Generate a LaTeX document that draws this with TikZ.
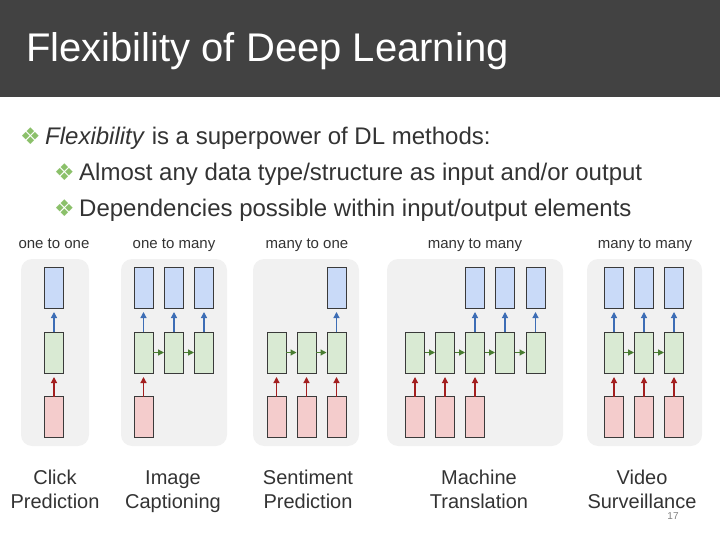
\documentclass[tikz,border=0pt]{standalone}
\usepackage{fontspec}
\setmainfont{Liberation Sans}
\newfontfamily\symfont{DejaVu Sans}
\usetikzlibrary{arrows.meta}
\definecolor{hdr}{HTML}{424242}
\definecolor{txt}{HTML}{333333}
\definecolor{bul}{HTML}{8BC06A}
\definecolor{panelc}{HTML}{F1F1F1}
\definecolor{outblue}{HTML}{C9DAF8}
\definecolor{hidgreen}{HTML}{D9EAD3}
\definecolor{inred}{HTML}{F4CCCC}
\definecolor{boxline}{HTML}{3A3A3A}
\definecolor{barc}{HTML}{3D6DB5}
\definecolor{rarc}{HTML}{A31F1F}
\definecolor{garc}{HTML}{4A7D32}
\begin{document}
\begin{tikzpicture}[x=1pt,y=-1pt,
  panel/.style={fill=panelc, rounded corners=11pt, inner sep=0, outer sep=0},
  box/.style={draw=boxline, line width=0.8pt, minimum width=19pt, minimum height=41pt, inner sep=0, outer sep=0},
  ob/.style={box, fill=outblue},
  hb/.style={box, fill=hidgreen},
  ib/.style={box, fill=inred},
  arr/.style={line width=1.2pt, -{Triangle[length=6pt,width=6pt]}},
  ba/.style={arr, draw=barc, shorten >=4pt},
  ra/.style={arr, draw=rarc, shorten >=4pt},
  ga/.style={arr, draw=garc, shorten >=0.5pt},
  ptitle/.style={font=\fontsize{15}{18}\selectfont, text=txt, anchor=base, inner sep=0},
  captxt/.style={font=\fontsize{20}{24}\selectfont, text=txt, align=center, anchor=base, inner sep=0},
  bl/.style={font=\symfont\fontsize{23}{26}\selectfont, text=bul, anchor=base west, inner sep=0},
  bt/.style={font=\fontsize{24}{28}\selectfont, text=txt, anchor=base west, inner sep=0}
]
\useasboundingbox (0,0) rectangle (720,540);
\fill[hdr] (0,0) rectangle (720,97);
\node[anchor=base west, inner sep=0, text=white, font=\fontsize{40}{48}\selectfont] (title) at (26,62) {Flexibility of Deep Learning};

\node[bl] (b1) at (20,145) {❖};
\node[bt] (t1) at (45,145) {\textit{Flexibility} is a superpower of DL methods:};
\node[bl] (b2) at (54,181) {❖};
\node[bt] (t2) at (79,181) {Almost any data type/structure as input and/or output};
\node[bl] (b3) at (54,217) {❖};
\node[bt] (t3) at (79,217) {Dependencies possible within input/output elements};

% panels
\node[panel, minimum width=68pt, minimum height=187pt] (P1) at (55,352.5) {};
\node[panel, minimum width=106pt, minimum height=187pt] (P2) at (174,352.5) {};
\node[panel, minimum width=106pt, minimum height=187pt] (P3) at (306,352.5) {};
\node[panel, minimum width=176pt, minimum height=187pt] (P4) at (475,352.5) {};
\node[panel, minimum width=115pt, minimum height=187pt] (P5) at (644.5,352.5) {};

% panel titles
\node[ptitle] (l1) at (54,248) {one to one};
\node[ptitle] (l2) at (174,248) {one to many};
\node[ptitle] (l3) at (307,248) {many to one};
\node[ptitle] (l4) at (475,248) {many to many};
\node[ptitle] (l5) at (645,248) {many to many};

% panel 1: one to one
\node[hb] (h11) at (54,352.5) {};
\node[ob] (o11) at (54,287.5) {};
\node[ib] (i11) at (54,417) {};
\draw[ba] (h11) -- (o11);
\draw[ra] (i11) -- (h11);

% panel 2: one to many
\foreach \i/\x in {1/143.5,2/174,3/204} {
  \node[hb] (h2\i) at (\x,352.5) {};
  \node[ob] (o2\i) at (\x,287.5) {};
  \draw[ba] (h2\i) -- (o2\i);
}
\node[ib] (i21) at (143.5,417) {};
\draw[ra] (i21) -- (h21);
\draw[ga] (h21) -- (h22);
\draw[ga] (h22) -- (h23);

% panel 3: many to one
\foreach \i/\x in {1/276.5,2/306.5,3/336.5} {
  \node[hb] (h3\i) at (\x,352.5) {};
  \node[ib] (i3\i) at (\x,417) {};
  \draw[ra] (i3\i) -- (h3\i);
}
\node[ob] (o33) at (336.5,287.5) {};
\draw[ba] (h33) -- (o33);
\draw[ga] (h31) -- (h32);
\draw[ga] (h32) -- (h33);

% panel 4: many to many (seq2seq)
\foreach \i/\x in {1/415,2/445,3/475,4/505,5/535.5} {
  \node[hb] (h4\i) at (\x,352.5) {};
}
\foreach \i/\x in {1/415,2/445,3/475} {
  \node[ib] (i4\i) at (\x,417) {};
  \draw[ra] (i4\i) -- (h4\i);
}
\foreach \i/\x in {3/475,4/505,5/535.5} {
  \node[ob] (o4\i) at (\x,287.5) {};
  \draw[ba] (h4\i) -- (o4\i);
}
\foreach \i/\j in {1/2,2/3,3/4,4/5} {
  \draw[ga] (h4\i) -- (h4\j);
}

% panel 5: many to many (synced)
\foreach \i/\x in {1/614,2/644,3/674} {
  \node[hb] (h5\i) at (\x,352.5) {};
  \node[ob] (o5\i) at (\x,287.5) {};
  \node[ib] (i5\i) at (\x,417) {};
  \draw[ba] (h5\i) -- (o5\i);
  \draw[ra] (i5\i) -- (h5\i);
}
\draw[ga] (h51) -- (h52);
\draw[ga] (h52) -- (h53);

% captions
\node[captxt] (c1) at (55,508) {Click\\Prediction};
\node[captxt] (c2) at (173,508) {Image\\Captioning};
\node[captxt] (c3) at (308,508) {Sentiment\\Prediction};
\node[captxt] (c4) at (479,508) {Machine\\Translation};
\node[captxt] (c5) at (642,508) {Video\\Surveillance};

\node[anchor=base, inner sep=0, text=gray, font=\fontsize{10}{12}\selectfont] (pg) at (673,519) {17};
\end{tikzpicture}
\end{document}
